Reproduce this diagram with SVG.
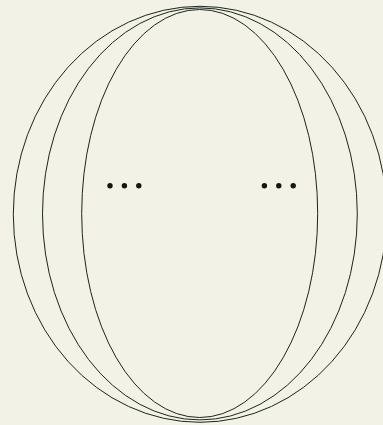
<svg xmlns="http://www.w3.org/2000/svg" width="383" height="425" viewBox="0 0 383 425">
<style>
.e{fill:none;stroke:#1c261c;stroke-width:1}
.d{fill:#111811}
</style>
<rect width="383" height="425" fill="#f2f2e7"/>
<g id="ellipses">
<ellipse id="outer" class="e" cx="200" cy="214.3" rx="186.7" ry="208"/>
<ellipse id="middle" class="e" cx="199.9" cy="213.9" rx="157.4" ry="206"/>
<ellipse id="inner" class="e" cx="199.7" cy="213.5" rx="118" ry="204"/>
</g>
<g id="dots-left">
<circle class="d" cx="110" cy="185.7" r="2.7"/>
<circle class="d" cx="124.4" cy="185.7" r="2.7"/>
<circle class="d" cx="138.8" cy="185.7" r="2.7"/>
</g>
<g id="dots-right">
<circle class="d" cx="264.4" cy="185.7" r="2.7"/>
<circle class="d" cx="278.8" cy="185.7" r="2.7"/>
<circle class="d" cx="293.2" cy="185.7" r="2.7"/>
</g>
</svg>
